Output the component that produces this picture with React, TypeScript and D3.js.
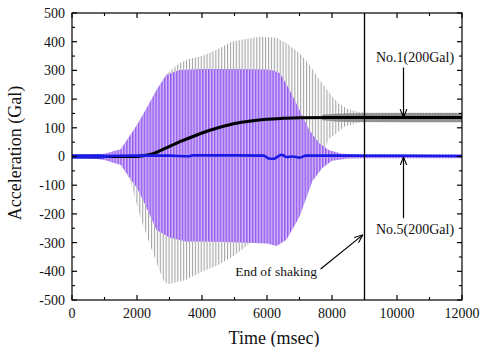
import React from "react";
import * as d3 from "d3";

// ---------- data ----------
const X_TICKS = [0, 2000, 4000, 6000, 8000, 10000, 12000];
const X_MINOR = [1000, 3000, 5000, 7000, 9000, 11000];
const Y_TICKS = [-500, -400, -300, -200, -100, 0, 100, 200, 300, 400, 500];
const Y_MINOR = [-450, -350, -250, -150, -50, 50, 150, 250, 350, 450];

const OSC_PERIOD_MS = 90; // visible cycle spacing of the shaking records
const END_OF_SHAKING_MS = 9000;

// No.1 (grey) oscillation envelope [time ms, Gal]
const no1Upper: [number, number][] = [
  [0, 6], [500, 6], [1000, 8], [1500, 25], [2000, 110], [2300, 165], [2600, 232],
  [2900, 287], [3300, 325], [3600, 340], [4000, 350], [4500, 375], [4900, 400],
  [5400, 410], [5800, 417], [6300, 414], [6600, 395], [7000, 360], [7300, 320],
  [7600, 270], [7900, 225], [8200, 185], [8500, 165], [8800, 156], [9000, 153], [12000, 153],
];
const no1Lower: [number, number][] = [
  [0, -6], [500, -6], [1000, -8], [1500, -28], [1800, -85], [2100, -210], [2500, -340],
  [2800, -430], [2950, -445], [3500, -430], [4000, -402], [4500, -378], [5000, -345],
  [5500, -300], [6000, -270], [6500, -220], [7000, -150], [7500, -50], [7900, 60],
  [8400, 105], [8800, 118], [9000, 120], [12000, 120],
];
// No.1 residual oscillation band after shaking [time, low, high]
const no1Residual: [number, number, number][] = [
  [7700, 126, 146], [8500, 120, 151], [12000, 119, 152],
];
// No.1 mean (black)
const no1Mean: [number, number][] = [
  [0, 0], [1800, 0], [2200, 3], [2500, 10], [2900, 30], [3400, 55], [4000, 82],
  [4500, 100], [5000, 115], [5500, 124], [6000, 130], [6500, 133], [7000, 135],
  [8000, 136], [12000, 136],
];

// No.5 (purple) oscillation envelope
const no5Upper: [number, number][] = [
  [0, 4], [600, 6], [1000, 10], [1500, 25], [2000, 110], [2300, 170], [2600, 232],
  [2900, 284], [3300, 301], [4000, 305], [5000, 305], [6000, 303], [6200, 300],
  [6400, 290], [6700, 232], [7000, 162], [7300, 92], [7600, 47], [7900, 23],
  [8300, 10], [9000, 7], [12000, 7],
];
const no5Lower: [number, number][] = [
  [0, -4], [600, -6], [1000, -12], [1500, -30], [2000, -110], [2200, -155],
  [2600, -256], [3000, -282], [3500, -296], [4000, -296], [5000, -299], [6000, -303],
  [6300, -312], [6600, -290], [7000, -210], [7400, -85], [7700, -40], [8000, -15],
  [8500, -7], [9000, -6], [12000, -6],
];
// No.5 mean (blue)
const no5Mean: [number, number][] = [
  [0, 2], [1000, 2], [2000, 3], [3000, 3], [3600, 1], [3700, 4], [5000, 4], [5900, 3],
  [6050, -7], [6200, -8], [6350, 1], [6450, 6], [6600, -2], [6800, 0], [7000, -4],
  [7200, 3], [8000, 3], [12000, 2],
];
// No.5 early noise band (blue) [time, low, high]
const no5Noise: [number, number, number][] = [
  [0, -8, 8], [800, -8, 8], [1100, -4, 5], [1500, -1, 3],
];

// ---------- layout ----------
const W = 481;
const H = 347;
const PL = 72;
const PR = 462;
const PT = 13;
const PB = 300;
const FONT = "'Liberation Serif', 'Times New Roman', serif";

export default function App() {
  const x = d3.scaleLinear().domain([0, 12000]).range([PL, PR]);
  const y = d3.scaleLinear().domain([-500, 500]).range([PB, PT]);

  const envelope = (up: [number, number][], lo: [number, number][]) => {
    const pts: [number, number][] = [
      ...up.map(([t, v]) => [x(t), y(v)] as [number, number]),
      ...lo.slice().reverse().map(([t, v]) => [x(t), y(v)] as [number, number]),
    ];
    return (d3.line()(pts) || "") + "Z";
  };
  const band = d3
    .area<[number, number, number]>()
    .x((d) => x(d[0]))
    .y0((d) => y(d[1]))
    .y1((d) => y(d[2]))
    .curve(d3.curveMonotoneX);
  const line = d3
    .line<[number, number]>()
    .x((d) => x(d[0]))
    .y((d) => y(d[1]))
    .curve(d3.curveMonotoneX);

  const pitch = x(OSC_PERIOD_MS) - x(0);

  return (
    <svg
      width={W}
      height={H}
      style={{ position: "absolute", left: 0, top: 0, background: "#fff" }}
      fontFamily={FONT}
    >
      <defs>
        <pattern id="greyStripe" patternUnits="userSpaceOnUse" x={PL} y={0} width={pitch} height={10}>
          <rect x={0} y={0} width={1.1} height={10} fill="#a4a4a4" />
        </pattern>
        <pattern id="purpleStripe" patternUnits="userSpaceOnUse" x={PL + pitch / 2} y={0} width={pitch} height={10}>
          <rect x={0} y={0} width={pitch} height={10} fill="#d2bff8" />
          <rect x={0} y={0} width={1.5} height={10} fill="#9558ee" />
        </pattern>
        <clipPath id="plotClip">
          <rect x={PL} y={PT} width={PR - PL} height={PB - PT} />
        </clipPath>
        <marker id="arrowHead" viewBox="0 0 10 10" refX={10} refY={5} markerWidth={7} markerHeight={7} orient="auto">
          <path d="M0,1 L10,5 L0,9" fill="none" stroke="#000" strokeWidth={1.3} />
        </marker>
      </defs>

      <g clipPath="url(#plotClip)">
        <path d={envelope(no1Upper, no1Lower)} fill="url(#greyStripe)" />
        <path d={band(no1Residual) || ""} fill="#8a8a8a" fillOpacity={0.9} />
        <path d={envelope(no5Upper, no5Lower)} fill="url(#purpleStripe)" />
        <path d={line(no1Mean) || ""} fill="none" stroke="#000" strokeWidth={3} />
        <path d={band(no5Noise) || ""} fill="#2020d8" />
        <path d={line(no5Mean) || ""} fill="none" stroke="#1a1ae6" strokeWidth={2.6} />
      </g>

      {/* end of shaking line */}
      <line x1={x(END_OF_SHAKING_MS)} x2={x(END_OF_SHAKING_MS)} y1={PT} y2={PB} stroke="#000" strokeWidth={1.3} />

      {/* frame */}
      <rect x={PL} y={PT} width={PR - PL} height={PB - PT} fill="none" stroke="#000" strokeWidth={1.2} />

      {/* x ticks */}
      {X_TICKS.map((t) => (
        <g key={"xt" + t}>
          <line x1={x(t)} x2={x(t)} y1={PB} y2={PB - 5} stroke="#000" strokeWidth={1.2} />
          <line x1={x(t)} x2={x(t)} y1={PT} y2={PT + 5} stroke="#000" strokeWidth={1.2} />
          <text x={x(t)} y={318} fontSize={14} textAnchor="middle" fill="#111">
            {t}
          </text>
        </g>
      ))}
      {X_MINOR.map((t) => (
        <g key={"xm" + t}>
          <line x1={x(t)} x2={x(t)} y1={PB} y2={PB - 3} stroke="#000" strokeWidth={1.1} />
          <line x1={x(t)} x2={x(t)} y1={PT} y2={PT + 3} stroke="#000" strokeWidth={1.1} />
        </g>
      ))}

      {/* y ticks */}
      {Y_TICKS.map((v) => (
        <g key={"yt" + v}>
          <line x1={PL} x2={PL + 5} y1={y(v)} y2={y(v)} stroke="#000" strokeWidth={1.2} />
          <line x1={PR} x2={PR - 5} y1={y(v)} y2={y(v)} stroke="#000" strokeWidth={1.2} />
          <text x={65} y={y(v)} dy="0.35em" fontSize={14} textAnchor="end" fill="#111">
            {v}
          </text>
        </g>
      ))}
      {Y_MINOR.map((v) => (
        <g key={"ym" + v}>
          <line x1={PL} x2={PL + 3} y1={y(v)} y2={y(v)} stroke="#000" strokeWidth={1.1} />
          <line x1={PR} x2={PR - 3} y1={y(v)} y2={y(v)} stroke="#000" strokeWidth={1.1} />
        </g>
      ))}

      {/* axis titles */}
      <text x={(PL + PR) / 2 + 7} y={344} fontSize={18} textAnchor="middle" fill="#111">
        Time (msec)
      </text>
      <text transform={`translate(21, ${153}) rotate(-90)`} fontSize={18} textAnchor="middle" fill="#111">
        Acceleration (Gal)
      </text>

      {/* annotations */}
      <text x={415} y={62} fontSize={14} textAnchor="middle" fill="#111">
        No.1(200Gal)
      </text>
      <line x1={x(10200)} x2={x(10200)} y1={y(310)} y2={y(136)} stroke="#000" strokeWidth={1.2} markerEnd="url(#arrowHead)" />

      <text x={415} y={234} fontSize={14} textAnchor="middle" fill="#111">
        No.5(200Gal)
      </text>
      <line x1={x(10200)} x2={x(10200)} y1={y(-215)} y2={y(-2)} stroke="#000" strokeWidth={1.2} markerEnd="url(#arrowHead)" />

      <text x={317} y={276} fontSize={13.5} textAnchor="end" fill="#111">
        End of shaking
      </text>
      <line x1={x(7650)} x2={x(8950)} y1={y(-392)} y2={y(-273)} stroke="#000" strokeWidth={1.2} markerEnd="url(#arrowHead)" />
    </svg>
  );
}
